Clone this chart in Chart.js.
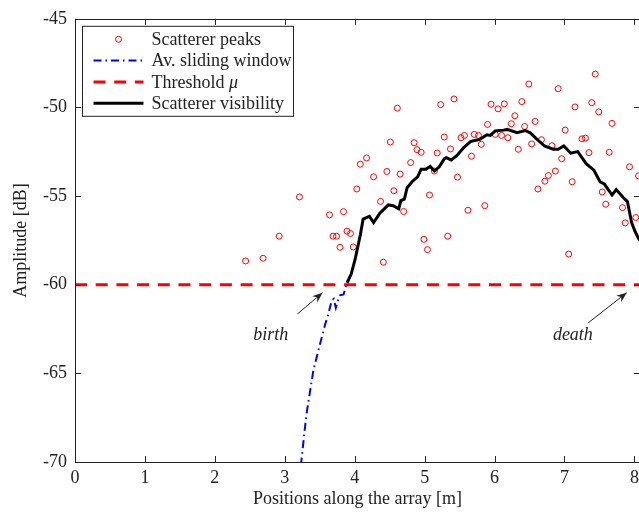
<!DOCTYPE html>
<html>
<head>
<meta charset="utf-8">
<title>Scatterer visibility</title>
<script src="https://cdn.jsdelivr.net/npm/chart.js@4.4.0/dist/chart.umd.min.js"></script>
<style>
    html, body { margin: 0; padding: 0; background: #fff; overflow: hidden; }
    #wrap { width: 648px; height: 513px; }
</style>
</head>
<body>
<div id="wrap"><canvas id="chart" width="648" height="513"></canvas></div>
<script>
// Scatterer peaks (position [m], amplitude [dB])
const peakX = [2.44, 2.69, 2.92, 3.21, 3.64, 3.69, 3.74, 3.79, 3.84, 3.89, 3.94, 3.98, 4.03, 4.08, 4.17, 4.27,
    4.37, 4.41, 4.46, 4.51, 4.56, 4.61, 4.65, 4.70, 4.80, 4.85, 4.89, 4.95, 4.99, 5.04, 5.07, 5.14, 5.18,
    5.23, 5.28, 5.33, 5.37, 5.42, 5.47, 5.52, 5.57, 5.62, 5.67, 5.71, 5.77, 5.81, 5.86, 5.90, 5.95, 6.01,
    6.05, 6.10, 6.14, 6.19, 6.24, 6.29, 6.34, 6.39, 6.43, 6.49, 6.53, 6.58, 6.62, 6.67, 6.72, 6.77, 6.82,
    6.87, 6.91, 6.96, 7.01, 7.06, 7.11, 7.15, 7.25, 7.30, 7.35, 7.39, 7.44, 7.49, 7.54, 7.59, 7.64, 7.68,
    7.83, 7.87, 7.93, 8.02, 8.06];
const peakY = [-58.66, -58.51, -57.26, -55.05, -56.06, -57.26, -57.26, -57.89, -55.88, -56.98, -57.11, -57.87,
    -54.60, -53.20, -52.85, -53.91, -55.30, -58.73, -53.61, -51.95, -54.70, -50.04, -53.76, -55.87, -53.11,
    -51.99, -52.38, -52.53, -57.44, -58.02, -54.94, -53.59, -52.57, -49.84, -51.67, -57.26, -52.34, -49.52,
    -53.93, -51.71, -51.58, -55.80, -52.75, -51.52, -51.58, -52.08, -55.54, -50.96, -49.82, -51.52, -50.08,
    -51.58, -49.80, -51.71, -50.92, -50.47, -52.36, -49.67, -51.07, -48.68, -52.06, -50.79, -54.60, -51.82,
    -54.16, -53.84, -52.16, -53.59, -48.94, -52.89, -51.28, -58.27, -54.19, -49.97, -51.77, -51.73, -52.55,
    -49.73, -48.12, -50.25, -54.77, -55.46, -52.53, -50.90, -55.65, -56.51, -53.35, -56.21, -53.86];

// Average over the sliding window (below threshold)
const winX = [3.23, 3.31, 3.41, 3.50, 3.58, 3.62, 3.67, 3.70, 3.73, 3.76, 3.79, 3.84, 3.88];
const winY = [-70.2, -67.3, -64.8, -63.4, -62.2, -61.7, -60.9, -60.8, -61.3, -60.9, -60.6, -60.55, -60.05];

// Threshold mu
const thrX = [0, 8.08];
const thrY = [-60, -60];

// Scatterer visibility
const visX = [3.89, 3.95, 4.01, 4.08, 4.12, 4.21, 4.27, 4.36, 4.48, 4.55, 4.63, 4.66, 4.71, 4.75, 4.82, 4.90,
    4.95, 5.02, 5.08, 5.14, 5.21, 5.28, 5.31, 5.38, 5.46, 5.56, 5.66, 5.72, 5.79, 5.89, 5.94, 6.01, 6.13,
    6.18, 6.32, 6.44, 6.51, 6.60, 6.72, 6.84, 6.91, 6.99, 7.09, 7.19, 7.31, 7.42, 7.51, 7.57, 7.68, 7.74,
    7.84, 7.90, 7.96, 8.01, 8.06, 8.10];
const visY = [-59.9, -59.4, -58.5, -57.2, -56.3, -56.15, -56.5, -55.97, -55.5, -55.54, -55.72, -55.26, -55.17,
    -54.53, -54.19, -53.91, -53.48, -53.48, -53.33, -53.58, -53.35, -52.9, -52.83, -52.96, -52.72, -52.26,
    -51.92, -51.86, -51.8, -51.54, -51.58, -51.32, -51.28, -51.24, -51.43, -51.3, -51.43, -51.77, -52.19,
    -52.36, -52.36, -52.17, -52.58, -52.49, -53.17, -53.54, -54.2, -54.32, -54.94, -54.63, -55.08, -55.31,
    -56.5, -57.0, -57.4, -57.6];

const xTicks = [0, 1, 2, 3, 4, 5, 6, 7, 8];
const yTicks = [-70, -65, -60, -55, -50, -45];
const legendLabels = ['Scatterer peaks', 'Av. sliding window', 'Threshold \u03bc', 'Scatterer visibility'];

// annotation text + arrows, in data units
const notes = [
    { text: 'birth', tx: 2.80, ty: -62.83, fx: 3.18, fy: -61.65, ax: 3.54, ay: -60.45 },
    { text: 'death', tx: 7.12, ty: -62.83, fx: 7.34, fy: -62.15, ax: 7.89, ay: -60.45 }
];

const serif = "'Liberation Serif', 'DejaVu Serif', serif";

function zip(xs, ys) {
    return xs.map((x, i) => ({ x: x, y: ys[i] }));
}

// axis box with inward ticks, annotations and the boxed legend
const framePlugin = {
    id: 'frame',
    afterDatasetsDraw(chart) {
        const ctx = chart.ctx;
        const a = chart.chartArea;
        const xs = chart.scales.x;
        const ys = chart.scales.y;
        const tl = 6;

        ctx.save();
        ctx.strokeStyle = '#222';
        ctx.lineWidth = 1;
        ctx.strokeRect(Math.round(a.left) + 0.5, Math.round(a.top) + 0.5,
            Math.round(a.right - a.left), Math.round(a.bottom - a.top));

        ctx.beginPath();
        xTicks.forEach(v => {
            const px = Math.round(xs.getPixelForValue(v)) + 0.5;
            ctx.moveTo(px, a.bottom); ctx.lineTo(px, a.bottom - tl);
            ctx.moveTo(px, a.top); ctx.lineTo(px, a.top + tl);
        });
        yTicks.forEach(v => {
            const py = Math.round(ys.getPixelForValue(v)) + 0.5;
            ctx.moveTo(a.left, py); ctx.lineTo(a.left + tl, py);
            ctx.moveTo(a.right, py); ctx.lineTo(a.right - tl, py);
        });
        ctx.stroke();

        // birth / death notes
        ctx.fillStyle = '#222';
        ctx.font = 'italic 18px ' + serif;
        ctx.textAlign = 'center';
        ctx.textBaseline = 'middle';
        notes.forEach(n => {
            ctx.fillText(n.text, xs.getPixelForValue(n.tx), ys.getPixelForValue(n.ty));
            const x1 = xs.getPixelForValue(n.fx), y1 = ys.getPixelForValue(n.fy);
            const x2 = xs.getPixelForValue(n.ax), y2 = ys.getPixelForValue(n.ay);
            const ang = Math.atan2(y2 - y1, x2 - x1);
            ctx.beginPath();
            ctx.moveTo(x1, y1); ctx.lineTo(x2, y2);
            ctx.stroke();
            ctx.beginPath();
            ctx.moveTo(x2, y2);
            ctx.lineTo(x2 - 11 * Math.cos(ang - 0.38), y2 - 11 * Math.sin(ang - 0.38));
            ctx.lineTo(x2 - 7 * Math.cos(ang), y2 - 7 * Math.sin(ang));
            ctx.lineTo(x2 - 11 * Math.cos(ang + 0.38), y2 - 11 * Math.sin(ang + 0.38));
            ctx.closePath();
            ctx.fill();
        });

        // legend
        const lx = a.left + 7.5, ly = a.top + 7.5;
        ctx.fillStyle = '#fff';
        ctx.fillRect(lx, ly, 211, 90);
        ctx.strokeStyle = '#222';
        ctx.strokeRect(lx, ly, 211, 90);
        ctx.textAlign = 'left';
        chart.data.datasets.forEach((ds, i) => {
            const ry = ly + 13 + i * 21.3;
            ctx.save();
            ctx.strokeStyle = ds.borderColor;
            if (ds.showLine) {
                ctx.lineWidth = ds.borderWidth;
                ctx.setLineDash(ds.borderDash || []);
                ctx.beginPath();
                ctx.moveTo(lx + 11, ry); ctx.lineTo(lx + 61, ry);
                ctx.stroke();
            } else {
                ctx.lineWidth = 1;
                ctx.beginPath();
                ctx.arc(lx + 36, ry, 3, 0, Math.PI * 2);
                ctx.stroke();
            }
            ctx.restore();
            ctx.fillStyle = '#222';
            const label = legendLabels[i];
            // math symbol (mu) is set in italic like the original
            if (label.endsWith('\u03bc')) {
                const head = label.slice(0, -1);
                ctx.font = '18px ' + serif;
                ctx.fillText(head, lx + 69, ry + 1);
                const w = ctx.measureText(head).width;
                ctx.font = 'italic 18px ' + serif;
                ctx.fillText('\u03bc', lx + 69 + w, ry + 1);
            } else {
                ctx.font = '18px ' + serif;
                ctx.fillText(label, lx + 69, ry + 1);
            }
        });
        ctx.restore();
    }
};

new Chart(document.getElementById('chart'), {
    type: 'scatter',
    data: {
        datasets: [
            {
                label: legendLabels[0],
                data: zip(peakX, peakY),
                showLine: false,
                borderColor: '#ff0000',
                backgroundColor: 'rgba(0,0,0,0)',
                borderWidth: 1,
                pointRadius: 3,
                order: 4
            },
            {
                label: legendLabels[1],
                data: zip(winX, winY),
                showLine: true,
                borderColor: '#0000ff',
                borderWidth: 2,
                borderDash: [8, 4, 1.5, 4],
                pointRadius: 0,
                order: 3
            },
            {
                label: legendLabels[2],
                data: zip(thrX, thrY),
                showLine: true,
                borderColor: '#ff0000',
                borderWidth: 3,
                borderDash: [12, 8.7],
                pointRadius: 0,
                order: 2
            },
            {
                label: legendLabels[3],
                data: zip(visX, visY),
                showLine: true,
                borderColor: '#000000',
                borderWidth: 3,
                pointRadius: 0,
                order: 1
            }
        ]
    },
    options: {
        responsive: false,
        animation: false,
        devicePixelRatio: 1,
        layout: { padding: { left: 0, top: 16, right: 8, bottom: 0 } },
        plugins: {
            legend: { display: false },
            tooltip: { enabled: false }
        },
        scales: {
            x: {
                type: 'linear',
                min: 0,
                max: 8.08,
                afterBuildTicks: s => { s.ticks = xTicks.map(v => ({ value: v })); },
                afterFit: s => { s.height = 51; },
                grid: { display: false, drawTicks: false },
                border: { display: false },
                ticks: { color: '#222', padding: 5, maxRotation: 0, font: { family: serif, size: 18 } },
                title: {
                    display: true,
                    text: 'Positions along the array [m]',
                    color: '#222',
                    padding: { top: 0, bottom: 3 },
                    font: { family: serif, size: 18 }
                }
            },
            y: {
                type: 'linear',
                min: -70,
                max: -45,
                afterBuildTicks: s => { s.ticks = yTicks.map(v => ({ value: v })); },
                afterFit: s => { s.width = 75; },
                grid: { display: false, drawTicks: false },
                border: { display: false },
                ticks: { color: '#222', padding: 8, font: { family: serif, size: 18 } },
                title: {
                    display: true,
                    text: 'Amplitude [dB]',
                    color: '#222',
                    padding: { top: 10, bottom: 0 },
                    font: { family: serif, size: 18 }
                }
            }
        }
    },
    plugins: [framePlugin]
});
</script>
</body>
</html>
